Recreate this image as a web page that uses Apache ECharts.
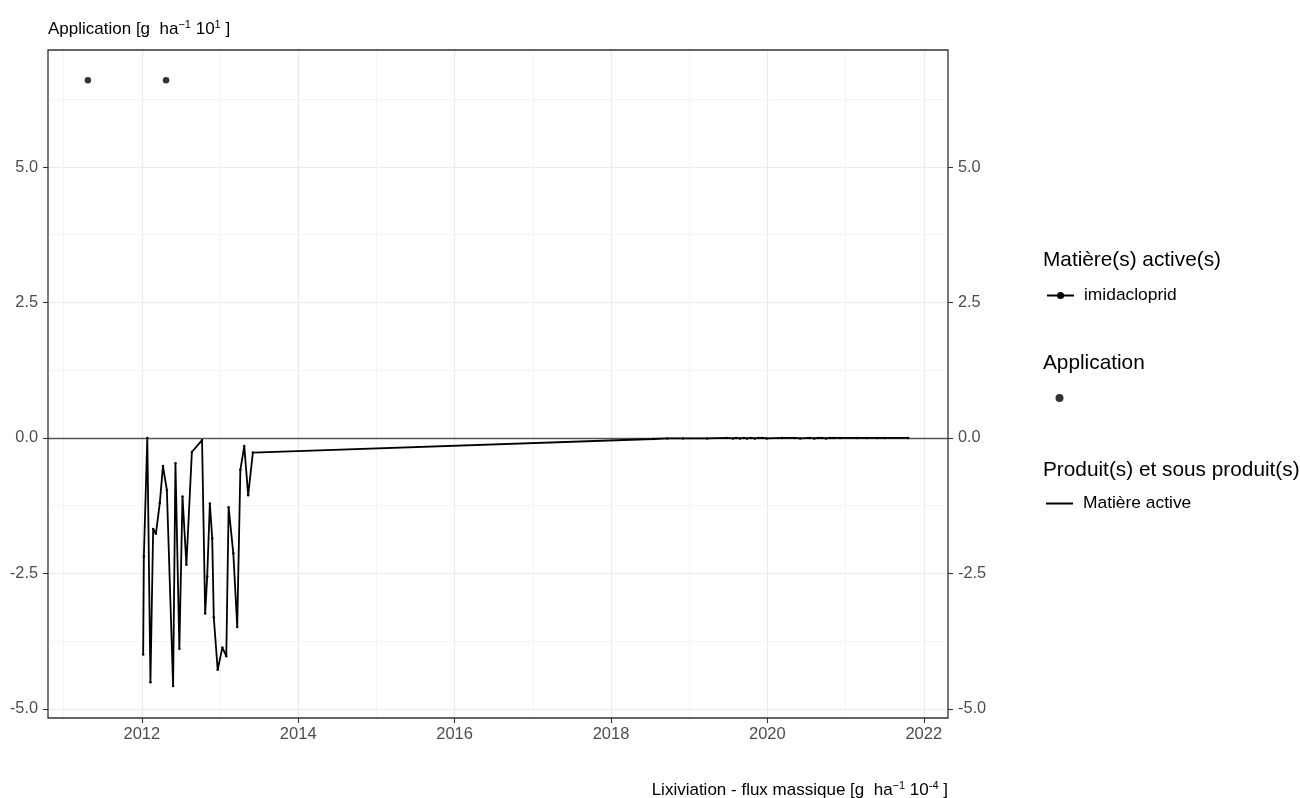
<!DOCTYPE html>
<html>
<head>
<meta charset="utf-8">
<script src="https://cdn.jsdelivr.net/npm/echarts@6/dist/echarts.min.js"></script>
<style>html,body{margin:0;padding:0;background:#fff;}#c{width:1300px;height:798px;}</style>
</head>
<body>
<div id="c"></div>
<script>
// ---- data ----
const applicationDates = [2011.31, 2012.31];
const applicationValues = [6.6, 6.6];

const leachDates = [
  2012.017, 2012.026, 2012.07, 2012.11, 2012.145, 2012.18, 2012.23, 2012.27, 2012.32,
  2012.40, 2012.43, 2012.48, 2012.52, 2012.57, 2012.64, 2012.77, 2012.81, 2012.836,
  2012.87, 2012.90, 2012.92, 2012.97, 2013.03, 2013.08, 2013.11, 2013.17, 2013.22,
  2013.26, 2013.31, 2013.36, 2013.42,
  2018.54, 2018.72, 2018.92, 2019.23, 2019.48, 2019.56, 2019.60, 2019.65, 2019.70,
  2019.74, 2019.79, 2019.84, 2019.89, 2019.94, 2019.99, 2020.19, 2020.35, 2020.42,
  2020.54, 2020.60, 2020.65, 2020.70, 2020.75, 2020.80, 2020.85, 2020.93, 2021.15,
  2021.27, 2021.40, 2021.50, 2021.80
];
const leachValues = [
  -4.00, -2.19, 0.00, -4.51, -1.68, -1.77, -1.20, -0.52, -0.96,
  -4.58, -0.47, -3.89, -1.08, -2.34, -0.26, -0.04, -3.24, -2.56,
  -1.21, -1.85, -3.31, -4.28, -3.87, -4.03, -1.28, -2.13, -3.49,
  -0.59, -0.15, -1.06, -0.27,
  -0.02, -0.01, -0.01, -0.01, 0.00, -0.01, 0.00, -0.01, 0.00,
  -0.01, 0.00, -0.01, 0.00, 0.00, -0.01, 0.00, 0.00, -0.01,
  0.00, -0.01, 0.00, 0.00, -0.01, 0.00, 0.00, 0.00, 0.00,
  0.00, 0.00, 0.00, 0.00
];

const xMajorTicks = [2012, 2014, 2016, 2018, 2020, 2022];
const xMinorTicks = [2011, 2013, 2015, 2017, 2019, 2021];
const yMajorTicks = [-5, -2.5, 0, 2.5, 5];
const yMinorTicks = [-3.75, -1.25, 1.25, 3.75, 6.25];

const xRange = [2010.8, 2022.31];
const yRange = [-5.17, 7.16];

// ---- chart ----
const chart = echarts.init(document.getElementById('c'), null, {renderer: 'canvas'});
const FONT = 'Liberation Sans, Arial, sans-serif';

function xAxisMajor() {
  return {
    type: 'value', gridIndex: 0, min: xRange[0], max: xRange[1], position: 'bottom',
    axisLine: {show: false, onZero: false},
    axisTick: {show: true, length: 5, lineStyle: {color: '#333', width: 1.1}, customValues: xMajorTicks},
    axisLabel: {show: true, margin: 8, customValues: xMajorTicks, formatter: v => String(Math.round(v)),
                color: '#4d4d4d', fontSize: 16.5, fontFamily: FONT},
    splitLine: {show: true, lineStyle: {color: '#ebebeb', width: 1.2}},
    z: 1
  };
}
function xAxisMinor() {
  return {
    type: 'value', gridIndex: 0, min: xRange[0], max: xRange[1], position: 'bottom',
    axisLine: {show: false, onZero: false},
    axisTick: {show: false, customValues: xMinorTicks},
    axisLabel: {show: false, customValues: xMinorTicks},
    splitLine: {show: true, lineStyle: {color: '#f4f4f4', width: 1}},
    z: 0
  };
}
function yAxis(pos, labels, custom, gridColor, gridWidth) {
  return {
    type: 'value', gridIndex: 0, min: yRange[0], max: yRange[1], position: pos,
    axisLine: {show: false, onZero: false},
    axisTick: {show: labels, length: 5, lineStyle: {color: '#333', width: 1.1}, customValues: custom},
    axisLabel: {show: labels, margin: 10, customValues: custom, formatter: v => v.toFixed(1),
                color: '#4d4d4d', fontSize: 16.3, fontFamily: FONT},
    splitLine: {show: gridColor !== null, lineStyle: {color: gridColor || '#ebebeb', width: gridWidth || 1}}
  };
}

const appData = applicationDates.map((d, i) => [d, applicationValues[i]]);
const leachData = leachDates.map((d, i) => [d, leachValues[i]]);

const sup = {fontSize: 11, verticalAlign: 'top', lineHeight: 12, padding: [0, 0, 9, 0], color: '#000', fontFamily: FONT};
const axTitleStyle = {fontSize: 17, lineHeight: 20, fontWeight: 'normal', color: '#000', fontFamily: FONT, rich: {s: sup}};
const legTitleStyle = {fontSize: 20.8, lineHeight: 24, fontWeight: 'normal', color: '#000', fontFamily: FONT};
const legLabel = {fontSize: 17.4, color: '#000', fontFamily: FONT, padding: [0, 0, 0, 5]};

const option = {
  backgroundColor: '#ffffff',
  animation: false,
  grid: {left: 48, top: 50, width: 900, height: 668, show: true, borderColor: '#333333', borderWidth: 1.3, backgroundColor: 'transparent', z: 5},
  xAxis: [xAxisMajor(), xAxisMinor()],
  yAxis: [
    yAxis('left', true, yMajorTicks, '#ebebeb', 1.2),
    yAxis('right', true, yMajorTicks, null),
    yAxis('left', false, yMinorTicks, '#f4f4f4', 1)
  ],
  title: [
    {text: 'Application [g  ha{s|−1} 10{s|1} ]', left: 48, top: 19, padding: 0, textStyle: axTitleStyle},
    {text: 'Lixiviation - flux massique [g  ha{s|−1} 10{s|-4} ]', right: 352, top: 780, padding: 0, textStyle: axTitleStyle},
    {text: 'Matière(s) active(s)', left: 1043, top: 248, padding: 0, textStyle: legTitleStyle},
    {text: 'Application', left: 1043, top: 351, padding: 0, textStyle: legTitleStyle},
    {text: 'Produit(s) et sous produit(s)', left: 1043, top: 458, padding: 0, textStyle: legTitleStyle}
  ],
  legend: [
    {data: ['imidacloprid'], left: 1046, top: 287, padding: 0, orient: 'vertical', itemWidth: 27, itemHeight: 9,
     selectedMode: false, textStyle: legLabel},
    {data: ['Application'], left: 1046, top: 394, padding: 0, orient: 'vertical', itemWidth: 27, itemHeight: 8,
     selectedMode: false, formatter: () => '', textStyle: {fontSize: 8, color: '#000'}},
    {data: [{name: 'Matière active', icon: 'rect'}], left: 1046, top: 495, padding: 0, orient: 'vertical', itemWidth: 27, itemHeight: 2,
     selectedMode: false, textStyle: legLabel}
  ],
  series: [
    {
      name: 'Matière active', type: 'line', xAxisIndex: 0, yAxisIndex: 0, data: leachData,
      color: '#000', lineStyle: {color: '#000', width: 1.8}, itemStyle: {color: '#000'},
      symbol: 'circle', symbolSize: 2.5, showSymbol: true, showAllSymbol: true, silent: true, z: 3,
      markLine: {silent: true, symbol: ['none', 'none'], label: {show: false},
                 lineStyle: {color: '#555', width: 1.3, type: 'solid'}, data: [{yAxis: 0}], z: 2}
    },
    {
      name: 'Application', type: 'scatter', xAxisIndex: 0, yAxisIndex: 0, data: appData,
      symbol: 'circle', symbolSize: 6.5, itemStyle: {color: '#000'}, silent: true, z: 4
    },
    {
      name: 'imidacloprid', type: 'line', xAxisIndex: 0, yAxisIndex: 0, data: [],
      symbol: 'circle', symbolSize: 7, lineStyle: {color: '#000', width: 1.8}, itemStyle: {color: '#000'}
    }
  ]
};
chart.setOption(option);
</script>
</body>
</html>
